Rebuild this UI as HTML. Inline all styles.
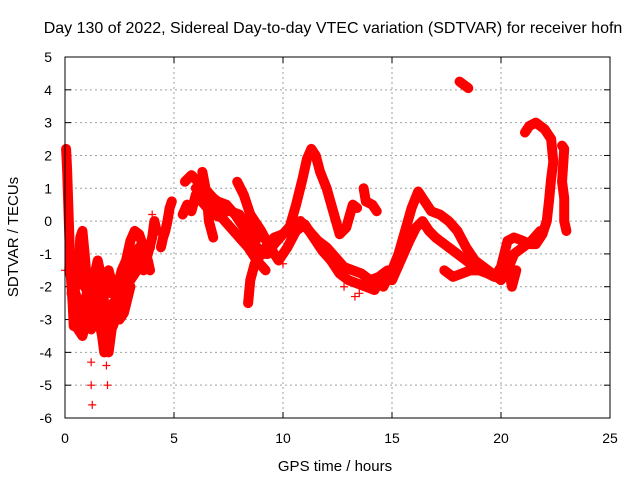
<!DOCTYPE html>
<html><head><meta charset="utf-8"><style>
body{margin:0;background:#fff}
svg{display:block;font-family:"Liberation Sans",sans-serif}
</style></head><body>
<svg id="chart" width="640" height="480">
<text x="333" y="33" text-anchor="middle" font-size="16">Day 130 of 2022, Sidereal Day-to-day VTEC variation (SDTVAR) for receiver hofn</text>
<text x="335" y="471" text-anchor="middle" font-size="15">GPS time / hours</text>
<text x="18" y="237" text-anchor="middle" font-size="15" transform="rotate(-90 18 237)">SDTVAR / TECUs</text>
<g id="grid"></g><g id="axes"></g><g id="marks"></g>
<rect x="65" y="57" width="545" height="361" fill="none" stroke="#000" stroke-width="1"/>
</svg>
<script>
const xTicks=[0,5,10,15,20,25];
const yTicks=[-6,-5,-4,-3,-2,-1,0,1,2,3,4,5];
const trackA1=[[0.05,2.2],[0.08,1.8],[0.1,1.5],[0.15,0.5],[0.2,-0.5],[0.25,-1.5],[0.35,-2.5],[0.4,-3.2]];
const trackA2=[[0.3,-1],[0.5,-2],[0.6,-1.8],[0.7,-0.5],[0.8,-0.3],[0.9,-1],[1.0,-1.8],[1.1,-2.5],[1.2,-3],[1.3,-2.5],[1.4,-1.5],[1.5,-1.2],[1.6,-1.5],[1.8,-2.5],[1.9,-3.5],[2.0,-4],[2.2,-3],[2.4,-2],[2.6,-1.5],[2.8,-1.2],[3.0,-0.6],[3.2,-0.3],[3.4,-0.4],[3.6,-0.8],[3.8,-1.2],[3.9,-1.5]];
const trackA3=[[0.2,-1.5],[0.4,-2],[0.6,-2.5],[0.8,-2.8],[1.0,-2.2],[1.2,-1.8],[1.4,-2.5],[1.6,-2.8],[1.8,-2],[2.0,-1.5],[2.2,-2],[2.4,-2.5],[2.6,-2],[2.8,-1.5],[3.0,-1.5],[3.2,-1],[3.4,-1.2],[3.6,-1.5],[3.8,-1],[4.0,-0.5],[4.1,0],[4.2,-0.3]];
const trackA4=[[0.5,-3.2],[0.8,-3.5],[1.0,-3],[1.2,-3.3],[1.5,-2.8],[1.7,-3.5],[1.8,-4],[2.0,-3.5],[2.2,-2.5],[2.5,-3],[2.7,-2.8],[3.0,-2]];
const trackA5=[[0.3,-2.2],[0.6,-1.6],[0.9,-2.0],[1.2,-2.3],[1.5,-2.0],[1.8,-1.6],[2.1,-2.2],[2.4,-1.8],[2.7,-2.2],[3.0,-1.8],[3.3,-1.5],[3.6,-1.0],[3.9,-0.8]];
const trackA6=[[0.4,-2.8],[0.7,-3.0],[1.0,-2.6],[1.3,-2.0],[1.6,-2.2],[1.9,-2.8],[2.2,-3.2],[2.5,-2.6],[2.8,-2.0],[3.1,-1.2],[3.4,-0.8]];
const trackOut=[[1.2,-4.3],[1.2,-5.0],[1.25,-5.6],[1.9,-4.4],[1.95,-5.0],[0.0,-1.5],[4.0,0.2]];
const trackB=[[4.4,-0.8],[4.5,-0.5],[4.6,-0.3],[4.7,0],[4.8,0.4],[4.9,0.6]];
const trackC1=[[5.5,1.2],[5.8,1.4],[6.1,1.2],[6.3,1.0],[6.6,0.8],[7.0,0.6],[7.4,0.5],[7.8,0.2],[8.2,-0.2],[8.6,-0.6],[9.0,-1.0],[9.3,-1.0]];
const trackC2=[[5.4,0.2],[5.6,0.5],[5.8,0.3],[6.0,0.8],[6.4,0.5],[6.8,0.2],[7.2,0.1],[7.6,-0.2],[8.0,-0.5],[8.4,-0.8],[8.8,-1.2],[9.2,-1.5]];
const trackC3=[[6.3,1.5],[6.5,0.8],[6.6,0.0],[6.8,-0.5]];
const trackC4=[[7.9,1.2],[8.2,0.8],[8.5,0.2],[8.8,-0.2],[9.0,-0.5]];
const trackC5=[[8.4,-2.5],[8.5,-1.8],[8.7,-1.3],[9.0,-1.0]];
const trackC6=[[6.0,1.0],[6.4,1.0],[6.8,0.7],[7.2,0.3],[7.6,0.3],[8.0,0.2],[8.4,-0.3],[8.8,-0.8]];
const trackU=[[9.3,-1.0],[9.6,-0.7],[10.0,-0.4],[10.3,-0.2],[10.6,0.5],[10.9,1.3],[11.1,1.9],[11.3,2.2],[11.5,2.0],[11.7,1.5],[12.0,1.0],[12.3,0.3],[12.6,-0.4],[12.9,-0.2],[13.2,0.5],[13.4,0.4]];
const trackU2=[[13.7,1.0],[13.8,0.6],[14.1,0.5],[14.3,0.3]];
const trackD=[[9.2,-0.8],[9.6,-0.5],[10.0,-0.4],[10.4,-0.1],[10.8,0.0],[11.2,-0.3],[11.6,-0.6],[12.0,-0.8],[12.4,-1.1],[12.8,-1.4],[13.2,-1.5],[13.6,-1.6],[14.0,-1.8],[14.4,-1.7],[14.8,-1.5]];
const trackE=[[8.5,0.2],[9.0,-0.3],[9.4,-0.8],[9.8,-1.2],[10.2,-0.8],[10.6,-0.3],[11.0,-0.1],[11.4,-0.5],[11.8,-0.9],[12.2,-1.2],[12.6,-1.6],[13.0,-1.8],[13.4,-1.9],[13.8,-2.0],[14.2,-2.1],[14.6,-1.6]];
const trackBlobs=[[9.9,-1.0],[10.0,-1.3],[13.5,-2.2],[13.3,-2.3],[12.8,-2.0]];
const trackF=[[14.6,-2.0],[15.0,-1.5],[15.3,-1.0],[15.6,-0.3],[15.9,0.4],[16.2,0.9],[16.5,0.6],[16.8,0.3],[17.2,0.2],[17.6,0.0],[18.0,-0.3],[18.4,-0.8],[18.8,-1.2],[19.2,-1.4],[19.6,-1.6],[20.0,-1.8],[20.3,-1.5],[20.6,-1.0],[21.0,-0.8],[21.4,-0.6],[21.8,-0.3]];
const trackG=[[15.0,-1.8],[15.4,-1.2],[15.8,-0.6],[16.1,-0.2],[16.4,0.0],[16.7,-0.3],[17.0,-0.5],[17.4,-0.7],[17.8,-0.9],[18.2,-1.1],[18.6,-1.3],[19.0,-1.4],[19.4,-1.5]];
const trackH=[[17.4,-1.5],[17.8,-1.7],[18.2,-1.6],[18.6,-1.5],[19.0,-1.5],[19.4,-1.6],[19.7,-1.7],[20.0,-1.4],[20.3,-0.6],[20.6,-0.5],[21.0,-0.6],[21.3,-0.7],[21.6,-0.7],[21.9,-0.4],[22.1,0.0],[22.2,0.6],[22.3,1.3],[22.4,1.8],[22.3,2.5],[22.0,2.8],[21.6,3.0],[21.3,2.9],[21.1,2.7]];
const trackI=[[20.3,-1.2],[20.5,-2.0],[20.7,-1.5]];
const trackJ=[[22.8,2.3],[22.9,2.2],[22.8,1.2],[22.9,0.7],[22.9,0.0],[23.0,-0.3]];
const trackK=[[18.1,4.25],[18.3,4.15],[18.5,4.05]];
const tracks=[trackA1,trackA2,trackA3,trackA4,trackA5,trackA6,trackOut,trackB,trackC1,trackC2,trackC3,trackC4,trackC5,trackC6,trackU,trackU2,trackD,trackE,trackBlobs,trackF,trackG,trackH,trackI,trackJ,trackK];
const lined=[true,true,true,true,true,true,false,true,true,true,true,true,true,true,true,true,true,true,false,true,true,true,true,true,true];

const X0=65,X1=610,Y0=418,Y1=57;
function sx(t){return X0+(t-0)/(25-0)*(X1-X0);}
function sy(v){return Y0-(v-(-6))/(5-(-6))*(Y0-Y1);}
const NS='http://www.w3.org/2000/svg';
function mk(tag,attrs,parent){const e=document.createElementNS(NS,tag);for(const k in attrs)e.setAttribute(k,attrs[k]);parent.appendChild(e);return e;}
const grid=document.getElementById('grid'),axes=document.getElementById('axes'),marks=document.getElementById('marks');
xTicks.forEach(t=>{
  const x=sx(t);
  if(t>0&&t<25){const g=mk('line',{x1:x,x2:x,y1:Y1,y2:Y0,stroke:'#a0a0a0','stroke-dasharray':'2,3'},grid);
  
  }
  mk('line',{x1:x,x2:x,y1:Y0,y2:Y0-6,stroke:'#000'},axes);
  mk('line',{x1:x,x2:x,y1:Y1,y2:Y1+6,stroke:'#000'},axes);
  const l=mk('text',{x:x,y:443,'text-anchor':'middle','font-size':'14'},axes);
  l.textContent=t;
  
  
});
yTicks.forEach(v=>{
  const y=sy(v);
  if(v>-6&&v<5){const g=mk('line',{x1:X0,x2:X1,y1:y,y2:y,stroke:'#a0a0a0','stroke-dasharray':'2,3'},grid);
  
  }
  mk('line',{x1:X0,x2:X0+6,y1:y,y2:y,stroke:'#000'},axes);
  mk('line',{x1:X1,x2:X1-6,y1:y,y2:y,stroke:'#000'},axes);
  const l=mk('text',{x:52,y:y+5,'text-anchor':'end','font-size':'14'},axes);
  l.textContent=v;
  
  
});
tracks.forEach((tr,i)=>{
  const g=mk('g',{},marks);
  
  
  if(lined[i]){
    mk('polyline',{points:tr.map(p=>sx(p[0])+','+sy(p[1])).join(' '),fill:'none',stroke:'#ff0000','stroke-width':'10','stroke-linejoin':'round','stroke-linecap':'round'},g);
  }
  let d='';
  tr.forEach(p=>{const x=sx(p[0]),y=sy(p[1]);d+='M'+(x-4)+' '+y+'H'+(x+4)+'M'+x+' '+(y-4)+'V'+(y+4);});
  mk('path',{d:d,stroke:'#ff0000','stroke-width':'1.2',fill:'none'},g);
});
</script>
</body></html>
